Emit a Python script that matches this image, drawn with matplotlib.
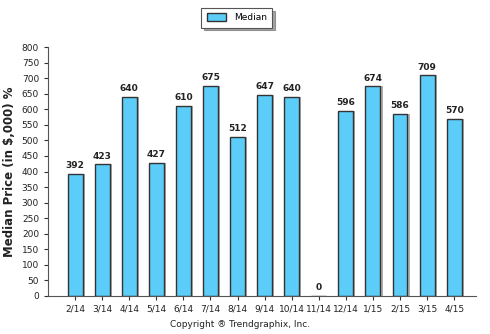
import matplotlib.pyplot as plt
from matplotlib.patches import FancyBboxPatch

months = ["2/14", "3/14", "4/14", "5/14", "6/14", "7/14", "8/14", "9/14",
          "10/14", "11/14", "12/14", "1/15", "2/15", "3/15", "4/15"]
median = [392, 423, 640, 427, 610, 675, 512, 647, 640, 0, 596, 674, 586, 709, 570]

fig = plt.figure(figsize=(4.9, 3.34), dpi=100)
ax = fig.add_axes([0.098, 0.114, 0.873, 0.745])

x = list(range(len(months)))
w = 0.55
# light shadow behind each bar
ax.bar([i + 0.08 for i in x], median, width=w, color="#b0b0b0", edgecolor="none", zorder=1)
bars = ax.bar(x, median, width=w, color="#5ccdf8", edgecolor="#333333", linewidth=1.0,
              label="Median", zorder=2)

for i, v in enumerate(median):
    ax.text(i, v + 12, str(v), ha="center", va="bottom", fontsize=6.5, fontweight="bold",
            color="#222222")

ax.set_xlim(-1, 14.8)
ax.set_ylim(0, 800)
ax.set_yticks(range(0, 801, 50))
ax.set_xticks(x)
ax.set_xticklabels(months)
ax.tick_params(axis="both", labelsize=6.5, length=3, color="#333333", labelcolor="#222222")
for s in ["top", "right"]:
    ax.spines[s].set_visible(False)
for s in ["left", "bottom"]:
    ax.spines[s].set_color("#555555")
ax.set_ylabel("Median Price (in $,000) %", fontsize=8.5, fontweight="bold", color="#222222")

leg = fig.legend(handles=[bars], labels=["Median"], loc="center", bbox_to_anchor=(0.483, 0.947),
                 fontsize=6.5, frameon=True, fancybox=False, shadow=True, handlelength=2.2,
                 handleheight=0.9, borderpad=0.6)
leg.get_frame().set_edgecolor("#555555")
leg.get_frame().set_linewidth(0.8)

fig.text(0.49, 0.027, "Copyright \u00ae Trendgraphix, Inc.", ha="center", va="center",
         fontsize=6.5, color="#222222")

fig.savefig("out.png", dpi=100)
